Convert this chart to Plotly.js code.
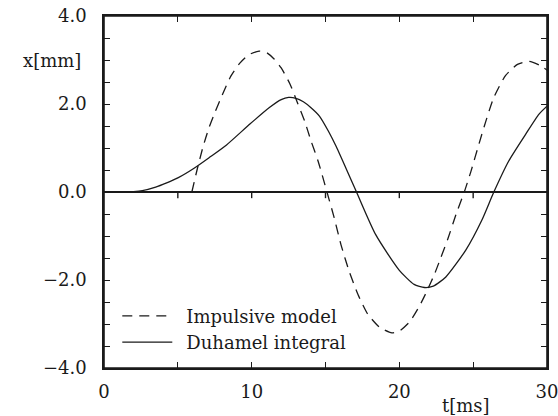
<!DOCTYPE html>
<html>
<head>
<meta charset="utf-8">
<script src="https://cdn.plot.ly/plotly-3.0.1.min.js"></script>
<style>html,body{margin:0;padding:0;background:#fff;}</style>
</head>
<body>
<div id="chart"></div>
<script>
// Impulsive model (dashed)
const impulsiveT = [5.95, 6.3, 6.7, 7.1, 7.5, 8.0, 8.6, 9.2, 9.8, 10.5, 11.0, 11.5, 12.0, 12.6, 13.1, 13.6, 14.0, 14.5, 15.1, 15.6, 16.05, 16.6, 17.2, 17.85, 18.65, 19.5, 20.0, 20.7, 21.35, 21.9, 22.4, 22.8, 23.3, 23.9, 24.4, 24.85, 25.4, 25.85, 26.4, 27.2, 28.0, 28.8, 29.5, 30.0];
const impulsiveX = [0.0, 0.5, 1.02, 1.45, 1.8, 2.2, 2.64, 2.93, 3.12, 3.2, 3.17, 3.03, 2.82, 2.45, 2.03, 1.6, 1.18, 0.7, 0.0, -0.6, -1.2, -1.8, -2.33, -2.77, -3.07, -3.2, -3.16, -2.95, -2.6, -2.23, -1.85, -1.5, -1.05, -0.45, 0.0, 0.47, 1.1, 1.6, 2.15, 2.65, 2.9, 2.97, 2.88, 2.77];

// Duhamel integral (solid)
const duhamelT = [0, 1, 2, 2.6, 3.5, 4.2, 5.0, 6.1, 7.2, 8.3, 9.9, 11.2, 12.0, 12.5, 13.0, 13.5, 14.0, 14.6, 15.2, 15.7, 16.4, 17.1, 18.4, 20.0, 21.0, 21.7, 22.3, 23.15, 24.5, 25.6, 26.4, 27.4, 28.55, 29.46, 30.0];
const duhamelX = [0, 0, 0.01, 0.03, 0.11, 0.2, 0.32, 0.54, 0.8, 1.07, 1.55, 1.92, 2.1, 2.15, 2.13, 2.05, 1.92, 1.72, 1.38, 1.05, 0.53, 0.0, -0.97, -1.78, -2.1, -2.17, -2.14, -1.93, -1.32, -0.63, 0.0, 0.7, 1.31, 1.77, 1.95];

const seriesNames = ["Impulsive model", "Duhamel integral"];
const xRange = [0, 30];
const yRange = [-4, 4];
const xTicks = [0, 10, 20, 30];
const zeroLineTicks = [5, 10, 15, 20, 25];
const yTicks = [-4, -2, 0, 2, 4];
const yTickText = ["\u22124.0", "\u22122.0", "0.0", "2.0", "4.0"];

const FONT = "DejaVu Serif";
const INK = "#1a1a1a";

const traces = [
  {x: impulsiveT, y: impulsiveX, name: "\u2002" + seriesNames[0], mode: "lines",
   line: {color: INK, width: 1.3, dash: "10px,7px", shape: "spline", smoothing: 0.6}},
  {x: duhamelT, y: duhamelX, name: "\u2002" + seriesNames[1], mode: "lines",
   line: {color: INK, width: 1.3, shape: "spline", smoothing: 0.6}}
];

// frame around the plot area and small downward ticks on the t-axis through x = 0
const shapes = [
  {type: "rect", xref: "x", yref: "y", x0: xRange[0], x1: xRange[1], y0: yRange[0], y1: yRange[1],
   line: {color: INK, width: 1.6}}
].concat(zeroLineTicks.map(t => ({
  type: "line", xref: "x", yref: "y", x0: t, x1: t, y0: 0, y1: -0.14,
  line: {color: INK, width: 1.4}
})));

const layout = {
  width: 558, height: 416,
  margin: {l: 104, r: 11, t: 16, b: 48},
  paper_bgcolor: "#fff", plot_bgcolor: "#fff",
  font: {family: FONT, size: 18, color: INK},
  showlegend: true,
  legend: {x: 0.03, y: 0.2, xanchor: "left", yanchor: "top", bgcolor: "rgba(0,0,0,0)",
           font: {family: FONT, size: 18, color: INK}, itemwidth: 50, tracegroupgap: 0},
  xaxis: {range: xRange, tickvals: xTicks, ticktext: xTicks.map(String),
          ticks: "inside", ticklen: 6, tickwidth: 1.2, tickcolor: INK,
          minor: {dtick: 5, tick0: 0, ticks: "inside", ticklen: 6, tickwidth: 1.2, tickcolor: INK},
          showline: true, linecolor: INK, linewidth: 1.6, mirror: "ticks",
          showgrid: false, zeroline: false, ticklabelstandoff: 7, ticklabeloverflow: "allow",
          tickfont: {family: FONT, size: 18, color: INK}},
  yaxis: {range: yRange, tickvals: yTicks, ticktext: yTickText,
          ticks: "inside", ticklen: 6, tickwidth: 1.2, tickcolor: INK,
          minor: {dtick: 0.5, tick0: 0, ticks: "inside", ticklen: 6, tickwidth: 1.2, tickcolor: INK},
          showline: true, linecolor: INK, linewidth: 1.6, mirror: "ticks",
          showgrid: false, zeroline: true, zerolinecolor: INK, zerolinewidth: 1.5, ticklabelstandoff: 12,
          tickfont: {family: FONT, size: 18, color: INK}},
  shapes: shapes,
  annotations: [
    {text: "x[mm]", xref: "paper", yref: "y", x: 0, y: 3.0, xanchor: "right", yanchor: "middle",
     xshift: -21, showarrow: false, font: {family: FONT, size: 18, color: INK}},
    {text: "t[ms]", xref: "x", yref: "paper", x: 24.5, y: 0, xanchor: "center", yanchor: "middle",
     yshift: -37, showarrow: false, font: {family: FONT, size: 18, color: INK}}
  ]
};

Plotly.newPlot("chart", traces, layout, {displayModeBar: false});
</script>
</body>
</html>
